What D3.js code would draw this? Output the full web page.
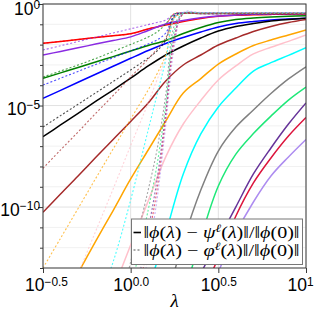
<!DOCTYPE html>
<html><head><meta charset="utf-8">
<script src="https://cdn.jsdelivr.net/npm/d3@7"></script>
<style>body{margin:0;background:#fff}</style>
</head><body>
<svg id="chart" width="314" height="318"></svg>
<script>
// ---------- DATA (log10 values) ----------
const logLambda    = [-0.5,-0.4,-0.3,-0.2,-0.1,0,0.1,0.2,0.3,0.4,0.5,0.6,0.7,0.8,0.9,1.0];
const dotLogLambda = [-0.5,-0.4,-0.3,-0.2,-0.1,0,0.1,0.15,0.2,0.25,0.3,0.4,0.6,0.8,1.0];

// solid: ||phi - psi^l|| / ||phi(0)||  (log10)
const psiRed     = [-1.935,-1.842,-1.748,-1.655,-1.561,-1.467,-1.231,-1.034,-0.862,-0.714,-0.606,-0.556,-0.532,-0.512,-0.502,-0.492];
const psiPurple  = [-2.512,-2.334,-2.157,-1.975,-1.797,-1.620,-1.305,-0.985,-0.812,-0.680,-0.591,-0.542,-0.507,-0.487,-0.478,-0.468];
const psiGreen   = [-3.659,-3.393,-3.127,-2.856,-2.590,-2.314,-2.044,-1.797,-1.453,-1.157,-0.911,-0.763,-0.689,-0.640,-0.606,-0.581];
const psiBlue    = [-4.643,-4.250,-3.856,-3.462,-3.068,-2.674,-2.290,-1.945,-1.650,-1.379,-1.133,-0.960,-0.862,-0.788,-0.739,-0.704];
const psiBlack   = [-6.534,-5.958,-5.382,-4.801,-4.235,-3.654,-3.053,-2.511,-2.068,-1.674,-1.330,-1.108,-0.960,-0.837,-0.763,-0.704];
const psiBrown   = [-10.257,-9.356,-8.470,-7.559,-6.672,-5.786,-4.875,-3.792,-3.004,-2.511,-2.019,-1.674,-1.354,-1.108,-0.911,-0.763];
const psiOrange  = [-16.30,-14.77,-13.25,-11.69,-10.17,-8.617,-7.189,-5.761,-4.382,-3.673,-2.955,-2.462,-2.044,-1.773,-1.526,-1.280];
const psiPink    = [null,null,null,-16.28,-14.08,-11.87,-9.70,-7.53,-5.91,-4.75,-3.74,-3.05,-2.46,-2.13,-1.84,-1.53];
const psiCyan    = [null,null,null,null,null,-17.1,-14.12,-11.28,-8.37,-6.40,-5.07,-4.14,-3.30,-2.89,-2.53,-2.15];
const psiGray    = [null,null,null,null,null,null,null,-14.77,-11.67,-9.16,-7.24,-6.06,-5.22,-4.41,-3.69,-3.09];
const psiSpring  = [null,null,null,null,null,null,null,null,-14.50,-11.52,-8.96,-7.39,-6.38,-5.52,-4.73,-4.09];
const psiIndigo  = [null,null,null,null,null,null,null,null,-14.8,-13.25,-11.62,-9.99,-8.37,-7.09,-5.91,-4.87];
const psiCrimson = [null,null,null,null,null,null,null,null,-16.5,-14.38,-12.51,-10.44,-8.81,-7.58,-6.50,-5.59];
const psiLilac   = [null,null,null,null,null,null,null,null,null,-15.6,-13.20,-11.28,-9.75,-8.47,-7.53,-6.67];

// dotted: ||phi - varphi^l|| / ||phi(0)||  (log10)
const vphRed     = [-1.935,-1.842,-1.748,-1.655,-1.561,-1.467,-1.231,-1.13,-0.985,-0.468,-0.443,-0.45,-0.45,-0.45,-0.45];
const vphPurple  = [-2.265,-2.058,-1.847,-1.640,-1.428,-1.221,-1.014,-0.911,-0.788,-0.492,-0.419,-0.42,-0.42,-0.42,-0.42];
const vphGreen   = [-3.595,-3.299,-3.004,-2.684,-2.339,-1.994,-1.625,-1.379,-0.985,-0.492,-0.443,-0.46,-0.46,-0.46,-0.46];
const vphBlue    = [-3.989,-3.654,-3.319,-2.979,-2.644,-2.309,-1.970,-1.773,-1.428,-0.542,-0.453,-0.47,-0.47,-0.47,-0.47];
const vphBlack   = [-6.057,-5.495,-4.939,-4.378,-3.816,-3.250,-2.659,-2.314,-1.773,-0.591,-0.463,-0.48,-0.48,-0.48,-0.48];
const vphBrown   = [-8.090,-7.189,-6.303,-5.392,-4.506,-3.595,-2.708,-2.216,-1.674,-0.640,-0.468,-0.47,-0.47,-0.47,-0.47];
const vphOrange  = [-13.0,-11.537,-10.07,-8.598,-7.140,-5.663,-4.235,-3.447,-2.511,-0.689,-0.468,-0.46,-0.46,-0.46,-0.46];
const vphPink    = [-17.53,-15.41,-13.30,-11.20,-9.11,-6.97,-4.875,-3.742,-2.659,-0.689,-0.443,-0.44,-0.44,-0.44,-0.44];
const vphCyan    = [null,null,null,-15.07,-12.70,-9.65,-6.20,-4.48,-2.76,-0.689,-0.443,-0.43,-0.43,-0.43,-0.43];
const vphGray    = [null,null,null,null,-16.05,-12.70,-9.16,-7.19,-4.48,-1.034,-0.468,-0.45,-0.45,-0.45,-0.45];
const vphSpring  = [null,null,null,null,null,-14.08,-10.14,-7.93,-4.97,-1.280,-0.468,-0.46,-0.46,-0.46,-0.46];
const vphIndigo  = [null,null,null,null,null,-15.56,-11.13,-8.67,-5.32,-1.527,-0.492,-0.49,-0.49,-0.49,-0.49];
const vphCrimson = [null,null,null,null,null,-16.55,-11.62,-9.16,-5.61,-1.773,-0.492,-0.48,-0.48,-0.48,-0.48];
const vphLilac   = [null,null,null,null,null,-17.53,-12.36,-9.65,-5.96,-2.019,-0.419,-0.42,-0.42,-0.42,-0.42];

const seriesColors = ["#ff0000","#8a2be2","#008000","#0000ff","#000000","#a52a2a","#ffa500","#ffc0cb","#00ffff","#808080","#1ee878","#663399","#dc143c","#ad8cf0"];
const solidSeries  = [psiRed,psiPurple,psiGreen,psiBlue,psiBlack,psiBrown,psiOrange,psiPink,psiCyan,psiGray,psiSpring,psiIndigo,psiCrimson,psiLilac];
const dottedSeries = [vphRed,vphPurple,vphGreen,vphBlue,vphBlack,vphBrown,vphOrange,vphPink,vphCyan,vphGray,vphSpring,vphIndigo,vphCrimson,vphLilac];

const xTickExps = ["−0.5","0.0","0.5","1"];
const xTickLogs = [-0.5,0,0.5,1];
const yTickExps = ["0","−5","−10"];
const yTickLogs = [0,-5,-10];
const yDecades  = d3.range(-13,1);
const legendRows = [
  {dash:null,  parts:[["‖",0],["ϕ",1],["(",0],["λ",1],[")",0],[" − ",0],["ψ",1],["ℓ",2],["(",0],["λ",1],[")‖/‖",0],["ϕ",1],["(0)‖",0]]},
  {dash:"2,2", parts:[["‖",0],["ϕ",1],["(",0],["λ",1],[")",0],[" − ",0],["φ",1],["ℓ",2],["(",0],["λ",1],[")‖/‖",0],["ϕ",1],["(0)‖",0]]}
];

// ---------- LAYOUT ----------
const L=43, R=306, T=4, B=268;
const svg = d3.select("#chart");
const x = d3.scaleLog().domain([Math.pow(10,-0.5),10]).range([L,R]);
const y = d3.scaleLog().domain([1e-13,1]).range([B,T]);

// grid
const grid = svg.append("g");
grid.selectAll("line.hy").data(yDecades).enter().append("line")
  .attr("x1",L).attr("x2",R)
  .attr("y1",d=>y(Math.pow(10,d))).attr("y2",d=>y(Math.pow(10,d)))
  .attr("stroke",d=>d%5===0?"#e2e2e2":"#f1f1f1").attr("stroke-width",1);
grid.selectAll("line.vx").data(xTickLogs).enter().append("line")
  .attr("y1",T).attr("y2",B)
  .attr("x1",d=>x(Math.pow(10,d))).attr("x2",d=>x(Math.pow(10,d)))
  .attr("stroke","#e2e2e2").attr("stroke-width",1);

// clip
svg.append("clipPath").attr("id","clip").append("rect")
  .attr("x",L).attr("y",T).attr("width",R-L).attr("height",B-T);
const plot = svg.append("g").attr("clip-path","url(#clip)");

const curveLine = d3.line().defined(d=>d[1]!=null)
  .x(d=>x(Math.pow(10,d[0]))).y(d=>y(Math.pow(10,d[1]))).curve(d3.curveCatmullRom.alpha(0.5));

solidSeries.forEach((s,i)=>{
  plot.append("path").datum(logLambda.map((t,j)=>[t,s[j]]))
    .attr("d",curveLine).attr("fill","none").attr("stroke",seriesColors[i])
    .attr("stroke-width",1.5);
  plot.append("path").datum(dotLogLambda.map((t,j)=>[t,dottedSeries[i][j]]))
    .attr("d",curveLine).attr("fill","none").attr("stroke",seriesColors[i])
    .attr("stroke-width",1.1).attr("stroke-dasharray","2,2").attr("opacity",0.7);
});

// frame
svg.append("rect").attr("x",L).attr("y",T).attr("width",R-L).attr("height",B-T)
  .attr("fill","none").attr("stroke","#3a3a3a").attr("stroke-width",1);

const FS = 17.5;
const xLabelShift = [3, 0, 0, -6];
// x axis
const xAxis = d3.axisBottom(x).tickValues(xTickLogs.map(d=>Math.pow(10,d))).tickSize(5).tickFormat("");
const gx = svg.append("g").attr("transform",`translate(0,${B})`).call(xAxis);
gx.select(".domain").remove();
gx.selectAll(".tick line").attr("stroke","#3a3a3a");
gx.selectAll(".tick").each(function(d,i){
  const t = d3.select(this).append("text").attr("x",xLabelShift[i]).attr("y",23).attr("text-anchor","middle")
    .attr("font-family","Liberation Sans, Arial, sans-serif").attr("font-size",FS).attr("fill","#000");
  t.append("tspan").text("10");
  t.append("tspan").attr("dy","-0.45em").attr("font-size","0.68em").text(xTickExps[i]);
});

// y axis minor
const yMinor = d3.axisLeft(y).tickValues(yDecades.filter(d=>d%5!==0).map(d=>Math.pow(10,d))).tickSize(3).tickFormat("");
const gym = svg.append("g").attr("transform",`translate(${L},0)`).call(yMinor);
gym.select(".domain").remove();
gym.selectAll(".tick line").attr("stroke","#3a3a3a");
// y axis major
const yAxis = d3.axisLeft(y).tickValues(yTickLogs.map(d=>Math.pow(10,d))).tickSize(5).tickFormat("");
const gy = svg.append("g").attr("transform",`translate(${L},0)`).call(yAxis);
gy.select(".domain").remove();
gy.selectAll(".tick line").attr("stroke","#3a3a3a");
gy.selectAll(".tick").each(function(d,i){
  const t = d3.select(this).append("text").attr("x",-3).attr("y",i===0?10:8.5).attr("text-anchor","end")
    .attr("font-family","Liberation Sans, Arial, sans-serif").attr("font-size",FS).attr("fill","#000");
  t.append("tspan").text("10");
  t.append("tspan").attr("dy","-0.5em").attr("font-size","0.68em").text(yTickExps[i]);
});

// x label
svg.append("text").attr("x",(L+R)/2).attr("y",307).attr("text-anchor","middle")
  .attr("font-family","Liberation Serif, serif").attr("font-style","italic")
  .attr("font-size",19).attr("fill","#000").text("λ");

// legend
const lg = svg.append("g");
lg.append("rect").attr("x",131.5).attr("y",219).attr("width",171).attr("height",45.5)
  .attr("fill","#fff").attr("stroke","#777").attr("stroke-width",1);
legendRows.forEach((row,i)=>{
  const cy = 232.5 + i*17.5;
  lg.append("line").attr("x1",133.5).attr("x2",141).attr("y1",cy).attr("y2",cy)
    .attr("stroke",i===0?"#000":"#555").attr("stroke-width",i===0?1.6:1.1)
    .attr("stroke-dasharray",row.dash);
  const t = lg.append("text").attr("x",143.5).attr("y",cy+5.5)
    .attr("font-family","Liberation Serif, DejaVu Serif, serif").attr("font-size",16).attr("fill","#000")
    .attr("textLength",156).attr("lengthAdjust","spacingAndGlyphs");
  row.parts.forEach((p,k)=>{
    const sp = t.append("tspan").text(p[0]);
    if(p[1]===1) sp.attr("font-style","italic");
    if(p[1]===2) sp.attr("font-style","italic").attr("font-size","0.7em").attr("dy",-6);
    if(k>0 && row.parts[k-1][1]===2) sp.attr("dy",6);
  });
});
</script>
</body></html>
